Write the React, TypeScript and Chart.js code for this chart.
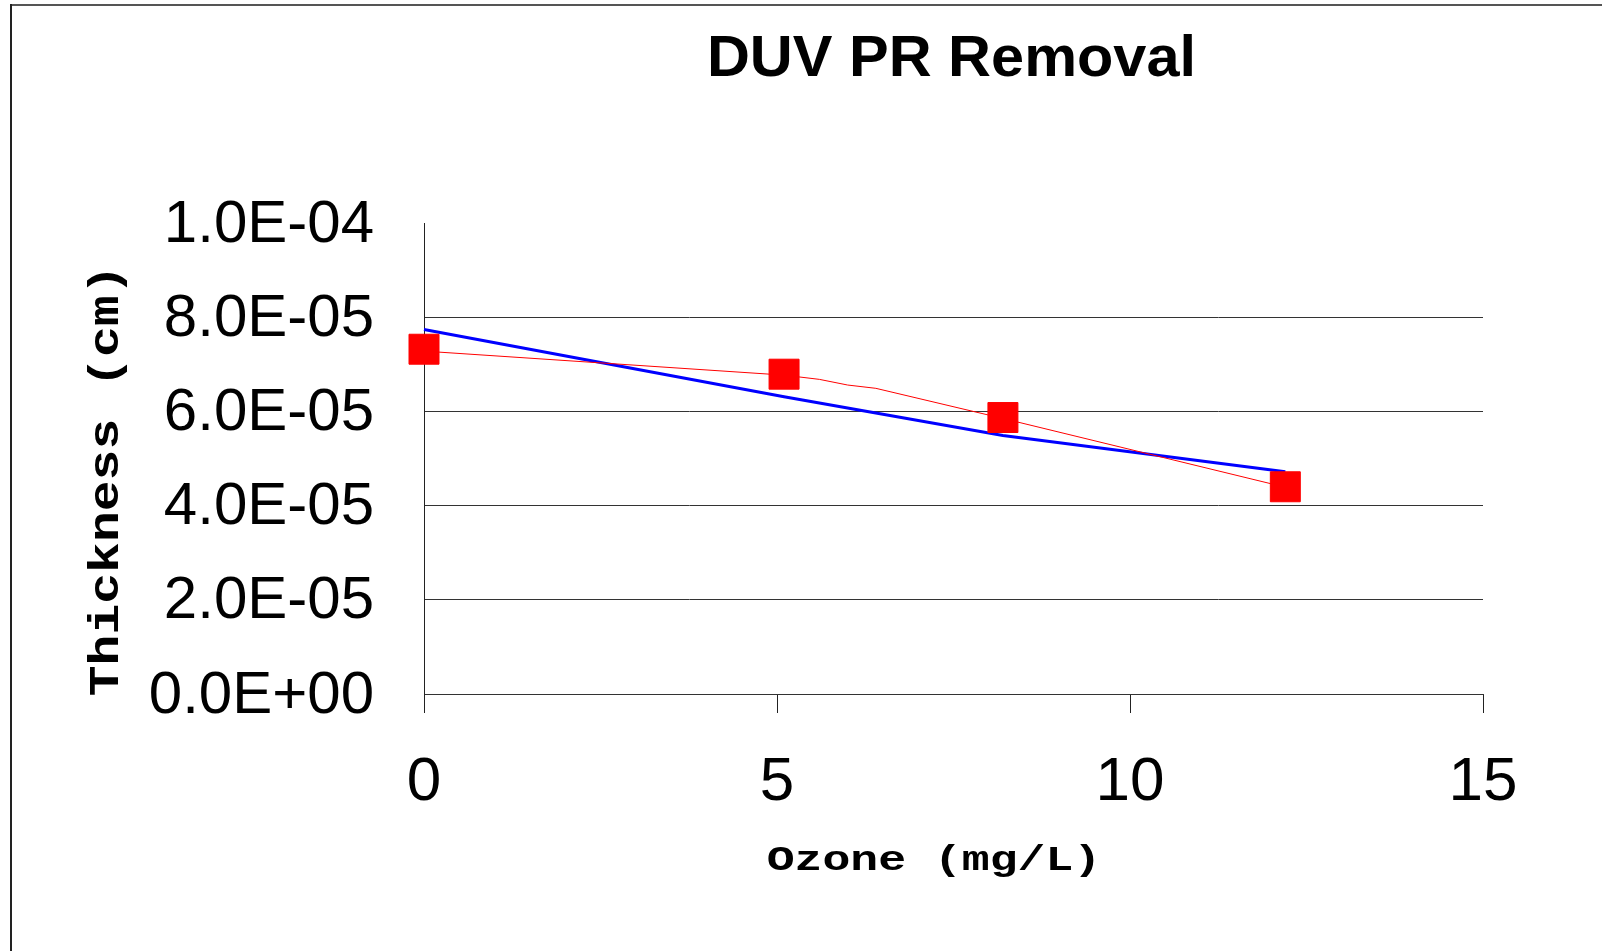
import React, { useEffect, useRef } from 'react';
import { Chart, registerables } from 'chart.js';

Chart.register(...registerables);

// ---- data ----
const ozone = [0, 5.1, 8.2, 12.2];
const thickness = [7.32e-5, 6.79e-5, 5.87e-5, 4.4e-5];

// thin red connector (with its small bends between 5 and 8 mg/L)
const connectorX = [0, 5.1, 5.6, 6.0, 6.4, 8.2, 12.2];
const connectorY = [7.28e-5, 6.77e-5, 6.68e-5, 6.56e-5, 6.49e-5, 5.85e-5, 4.39e-5];

// blue fitted line
const fitX = [0, 5.1, 8.2, 12.2];
const fitY = [7.74e-5, 6.31e-5, 5.49e-5, 4.72e-5];

const xTickValues = [0, 5, 10, 15];
const xTickLabels = ['0', '5', '10', '15'];
const yTickValues = [0, 2e-5, 4e-5, 6e-5, 8e-5, 1e-4];
const yTickLabels = ['0.0E+00', '2.0E-05', '4.0E-05', '6.0E-05', '8.0E-05', '1.0E-04'];

const chartTitle = 'DUV PR Removal';
const xTitle = 'Ozone (mg/L)';
const yTitle = 'Thickness (cm)';

const pts = (xs: number[], ys: number[]) => xs.map((x, i) => ({ x, y: ys[i] }));

function drawFitted(
  ctx: CanvasRenderingContext2D,
  text: string,
  family: string,
  weight: string,
  capHeight: number,
  visibleLength: number,
  originX: number,
  originY: number,
  rotate: boolean
) {
  ctx.save();
  ctx.font = `${weight} 100px ${family}`;
  const capAt100 = ctx.measureText('H').actualBoundingBoxAscent || 72;
  const size = (100 * capHeight) / capAt100;
  ctx.font = `${weight} ${size}px ${family}`;
  ctx.textAlign = 'left';
  ctx.textBaseline = 'alphabetic';
  const m = ctx.measureText(text);
  const vis = m.actualBoundingBoxLeft + m.actualBoundingBoxRight;
  const sx = visibleLength / vis;
  ctx.translate(originX, originY);
  if (rotate) ctx.rotate(-Math.PI / 2);
  ctx.scale(sx, 1);
  ctx.fillStyle = '#000';
  ctx.fillText(text, m.actualBoundingBoxLeft, 0);
  ctx.restore();
}

const decorPlugin = {
  id: 'decor',
  afterDraw(chart: any) {
    const ctx = chart.ctx as CanvasRenderingContext2D;
    ctx.save();
    // outer frame (left and top edges visible)
    ctx.fillStyle = '#555';
    ctx.fillRect(10, 4, 1602, 2);
    ctx.fillStyle = '#222';
    ctx.fillRect(10, 4, 2, 951);
    ctx.restore();
    // title
    drawFitted(ctx, chartTitle, "'Liberation Sans', Arial, sans-serif", 'bold', 40, 482, 710, 76, false);
    // x axis title
    drawFitted(ctx, xTitle, "'Liberation Mono', 'Courier New', monospace", 'bold', 24, 326, 768, 870, false);
    // y axis title
    drawFitted(ctx, yTitle, "'Liberation Mono', 'Courier New', monospace", 'bold', 28, 423, 118, 695, true);
  },
};

export default function App() {
  const ref = useRef<HTMLCanvasElement | null>(null);

  useEffect(() => {
    if (!ref.current) return;
    const chart = new Chart(ref.current, {
      type: 'scatter',
      data: {
        datasets: [
          {
            label: 'Thickness',
            data: pts(ozone, thickness),
            showLine: false,
            clip: false,
            pointStyle: 'rect',
            pointRadius: 21.2,
            pointHoverRadius: 21.2,
            backgroundColor: '#FF0000',
            borderColor: '#FF0000',
            borderWidth: 1,
          },
          {
            label: 'Connector',
            data: pts(connectorX, connectorY),
            showLine: true,
            clip: false,
            pointRadius: 0,
            pointHoverRadius: 0,
            borderColor: '#FF0000',
            borderWidth: 1,
            tension: 0,
          },
          {
            label: 'Fit',
            data: pts(fitX, fitY),
            showLine: true,
            clip: false,
            pointRadius: 0,
            pointHoverRadius: 0,
            borderColor: '#0000FF',
            borderWidth: 3,
            tension: 0,
          },
        ],
      },
      options: {
        animation: false,
        responsive: false,
        events: [],
        layout: { padding: { left: 0, top: 223, right: 119, bottom: 0 } },
        plugins: {
          legend: { display: false },
          tooltip: { enabled: false },
          title: { display: false },
        },
        scales: {
          x: {
            type: 'linear',
            min: 0,
            max: 15,
            afterBuildTicks: (scale: any) => {
              scale.ticks = xTickValues.map((v) => ({ value: v }));
            },
            afterFit: (scale: any) => {
              scale.height = 951 - 694;
            },
            ticks: {
              callback: (_v: any, i: number) => xTickLabels[i],
              font: { family: "'Liberation Sans', Arial, sans-serif", size: 62 },
              color: '#000',
              padding: 33,
              maxRotation: 0,
              autoSkip: false,
            },
            grid: {
              drawOnChartArea: false,
              drawTicks: true,
              tickLength: 19,
              color: '#222',
              lineWidth: 1,
            },
            border: { display: true, color: '#333', width: 1 },
          },
          y: {
            type: 'linear',
            min: 0,
            max: 1e-4,
            afterBuildTicks: (scale: any) => {
              scale.ticks = yTickValues.map((v) => ({ value: v }));
            },
            afterFit: (scale: any) => {
              scale.width = 424;
            },
            ticks: {
              callback: (_v: any, i: number) => yTickLabels[i],
              font: { family: "'Liberation Sans', Arial, sans-serif", size: 60 },
              color: '#000',
              padding: 50,
              labelOffset: 2,
              autoSkip: false,
            },
            grid: {
              drawTicks: false,
              color: (c: any) => (c.index === yTickValues.length - 1 ? 'rgba(0,0,0,0)' : '#333'),
              lineWidth: 1,
            },
            border: { display: true, color: '#222', width: 1 },
          },
        },
      },
      plugins: [decorPlugin],
    });
    return () => chart.destroy();
  }, []);

  return (
    <div style={{ position: 'absolute', left: 0, top: 0, width: 1602, height: 951, background: '#fff' }}>
      <canvas ref={ref} width={1602} height={951} style={{ width: 1602, height: 951, display: 'block' }} />
    </div>
  );
}
